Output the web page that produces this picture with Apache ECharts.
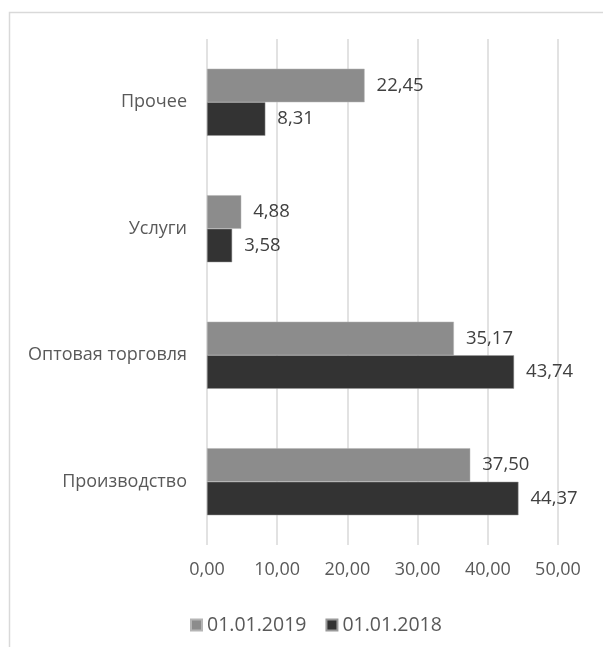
<!DOCTYPE html>
<html>
<head>
<meta charset="utf-8">
<script src="https://cdn.jsdelivr.net/npm/echarts@6/dist/echarts.min.js"></script>
<style>
  html, body { margin: 0; padding: 0; background: #fff; }
  #main { width: 603px; height: 647px; }
</style>
</head>
<body>
<div id="main"></div>
<script>
// категории снизу вверх
var categories = ['Производство', 'Оптовая торговля', 'Услуги', 'Прочее']
var values2019 = [37.50, 35.17, 4.88, 22.45]
var values2018 = [44.37, 43.74, 3.58, 8.31]
var xTicks = [0, 10, 20, 30, 40, 50]

var fmt = function (v) {
  return v.toFixed(2).replace('.', ',')
}

var myChart = echarts.init(document.getElementById('main'))
myChart.setOption({
  animation: false,
  textStyle: { fontFamily: 'Open Sans' },
  graphic: [
    {
      type: 'rect',
      shape: { x: 9.5, y: 12.5, width: 620, height: 660 },
      style: { fill: 'none', stroke: '#d9d9d9', lineWidth: 1.5 }
    }
  ],
  grid: { left: 207, right: 45, top: 39, bottom: 102 },
  legend: {
    data: ['01.01.2019', '01.01.2018'],
    left: 185,
    top: 610,
    icon: 'rect',
    itemWidth: 11,
    itemHeight: 11,
    itemGap: 19,
    textStyle: { color: '#595959', fontSize: 19.5, fontFamily: 'Open Sans' }
  },
  xAxis: {
    type: 'value',
    min: xTicks[0],
    max: xTicks[xTicks.length - 1],
    interval: 10,
    axisLine: { show: false },
    axisTick: { show: false },
    axisLabel: {
      color: '#595959',
      fontSize: 18,
      margin: 16,
      formatter: function (v) { return fmt(v) }
    },
    splitLine: { lineStyle: { color: '#d9d9d9', width: 1.5 } }
  },
  yAxis: {
    type: 'category',
    data: categories,
    axisLine: { show: false },
    axisTick: { show: false },
    axisLabel: { color: '#595959', fontSize: 18, margin: 20 }
  },
  series: [
    {
      name: '01.01.2019',
      type: 'bar',
      data: values2019,
      barGap: '0%',
      barCategoryGap: '47%',
      itemStyle: { color: '#8c8c8c', borderColor: '#b5b5b5', borderWidth: 0.5 },
      label: {
        show: true,
        position: 'right',
        distance: 12,
        color: '#404040',
        fontSize: 18.5,
        formatter: function (p) { return fmt(p.value) }
      }
    },
    {
      name: '01.01.2018',
      type: 'bar',
      data: values2018,
      barGap: '0%',
      barCategoryGap: '47%',
      itemStyle: { color: '#333333', borderColor: '#9a9a9a', borderWidth: 0.5 },
      label: {
        show: true,
        position: 'right',
        distance: 12,
        color: '#404040',
        fontSize: 18.5,
        formatter: function (p) { return fmt(p.value) }
      }
    }
  ]
})
</script>
</body>
</html>
